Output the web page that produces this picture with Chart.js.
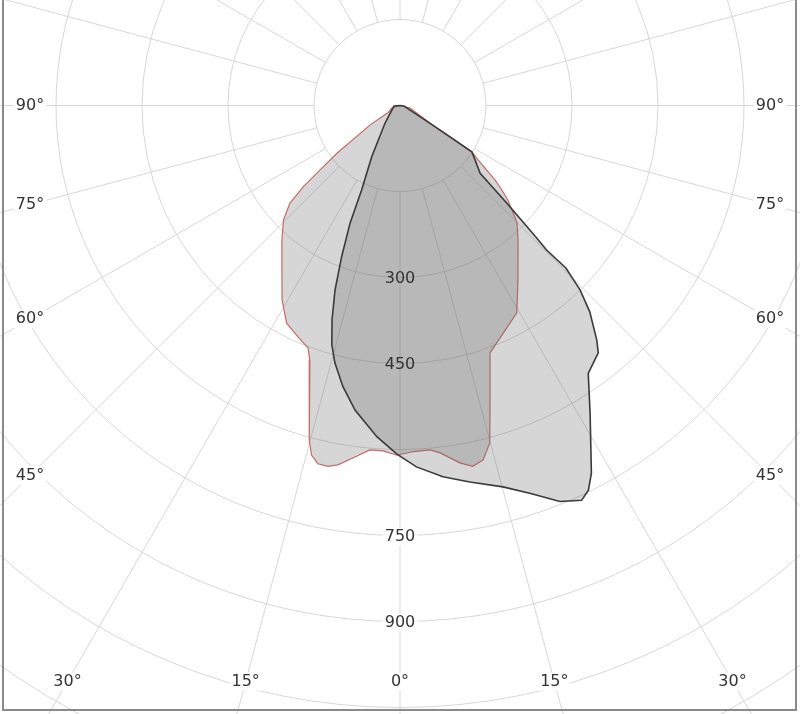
<!DOCTYPE html>
<html><head><meta charset="utf-8">
<script src="https://cdn.jsdelivr.net/npm/chart.js@4.4.1/dist/chart.umd.min.js"></script>
<style>html,body{margin:0;padding:0;background:#fff}canvas{display:block}</style>
</head><body>
<canvas id="c" width="800" height="714"></canvas>
<script>
// ---- data ----
const ringValues = [150, 300, 450, 600, 750, 900, 1050, 1200, 1350];
const ringLabelValues = [300, 450, 750, 900];
const spokeAngles = [0,15,30,45,60,75,90,105,120,135,150,165,180,195,210,225,240,255,270,285,300,315,330,345];
const angleLabelValues = [0, 15, 30, 45, 60, 75, 90];

// C0-C180 plane (red outline): signed angle from nadir (deg), intensity (cd)
const redAngles = [-90,-73,-59.7,-57.0,-52.9,-51.1,-50.0,-48.4,-45.5,-41.3,-35.7,-31.2,-27.5,-23.8,-20.8,-19.5,-17.1,-15.2,-14.2,-12.9,-11.3,-9.8,-7.3,-5.0,-2.8,-0.5,2.2,5.0,6.6,9.5,11.4,13.2,14.9,17.0,20.0,24.4,29.4,34.1,41.3,45.1,48.8,50.8,51.9,55.1,57.1,57.9,59.7,76,90];
const redIntensity = [0,15,24,62,138,179,220,257,285,312,353,397,428,441,452,471,537,605,629,641,642,636,618,603,603,610,604,603,610,632,642,635,609,537,459,436,415,367,312,288,250,225,211,166,150,113,61,18,0];

// C90-C270 plane (black outline)
const blackAngles = [-90,-85,-46.2,-40.1,-28.9,-24.4,-23.0,-21.1,-19.4,-17.6,-15.9,-14.2,-11.5,-8.4,-4.0,-0.5,2.6,6.6,10.5,15.1,18.5,22.0,24.7,26.1,27.5,31.7,35.1,38.7,40.0,42.6,44.3,45.6,45.4,45.9,47.6,49.8,54.0,57.2,59.3,83,90];
const blackIntensity = [0,10.5,28,41,102,162,223,283,341,392,434,463,500,537,579,608,631,652,668,689,713,745,758,747,723,631,571,553,534,489,450,405,359,332,252,183,162,149,61,7,0];

// ---- helpers ----
function toXY(angles, vals) {
  return angles.map((a, i) => {
    const r = a * Math.PI / 180;
    return { x: vals[i] * Math.sin(r), y: -vals[i] * Math.cos(r) };
  });
}
const K = 86 / 150;           // px per cd
const CX = 400, CY = 105.5;   // pole position in px
const W = 800, H = 714;

const FONT = '16px "DejaVu Sans", Verdana, sans-serif';
const TXT = '#333';
const GRID = '#d6d6d6';

const gridPlugin = {
  id: 'polarGrid',
  beforeDatasetsDraw(chart) {
    const ctx = chart.ctx, xs = chart.scales.x, ys = chart.scales.y;
    const cx = xs.getPixelForValue(0), cy = ys.getPixelForValue(0);
    const rad = v => xs.getPixelForValue(v) - cx;
    ctx.save();
    ctx.strokeStyle = GRID; ctx.lineWidth = 1;
    ringValues.forEach(v => {
      ctx.beginPath(); ctx.arc(cx, cy, rad(v), 0, Math.PI * 2); ctx.stroke();
    });
    const r0 = rad(ringValues[0]), r1 = rad(3000);
    spokeAngles.forEach(a => {
      const t = a * Math.PI / 180, s = Math.sin(t), c = Math.cos(t);
      ctx.beginPath();
      ctx.moveTo(cx + r0 * s, cy + r0 * c);
      ctx.lineTo(cx + r1 * s, cy + r1 * c);
      ctx.stroke();
    });
    ctx.restore();
  },
  afterDatasetsDraw(chart) {
    const ctx = chart.ctx, xs = chart.scales.x, ys = chart.scales.y;
    const cx = xs.getPixelForValue(0), cy = ys.getPixelForValue(0);
    const rad = v => xs.getPixelForValue(v) - cx;
    ctx.save();
    ctx.font = FONT; ctx.textAlign = 'center'; ctx.textBaseline = 'middle';
    const boxed = (txt, x, y) => {
      const w = ctx.measureText(txt).width;
      ctx.fillStyle = '#fff';
      ctx.fillRect(x - w / 2 - 2, y - 9, w + 4, 18);
      ctx.fillStyle = TXT;
      ctx.fillText(txt, x, y);
    };
    // angle labels on the frame
    const sideX = 370, bottomY = 576;
    angleLabelValues.forEach(a => {
      const t = a * Math.PI / 180, s = Math.sin(t), c = Math.cos(t);
      const tt = Math.min(s > 1e-6 ? sideX / s : 1e9, c > 1e-6 ? bottomY / c : 1e9);
      const sides = a === 0 ? [1] : [-1, 1];
      sides.forEach(sg => boxed(a + '°', cx + sg * tt * s, cy + tt * c));
    });
    // ring labels on the nadir axis
    ringLabelValues.forEach(v => {
      const y = cy + rad(v) + 1;
      if (v >= 600) boxed(String(v), cx, y);
      else { ctx.fillStyle = TXT; ctx.fillText(String(v), cx, y); }
    });
    // frame
    ctx.strokeStyle = '#8a8a8a'; ctx.lineWidth = 2;
    ctx.beginPath();
    ctx.moveTo(3, 0); ctx.lineTo(3, 710); ctx.lineTo(796, 710); ctx.lineTo(796, 0);
    ctx.stroke();
    ctx.restore();
  }
};

new Chart(document.getElementById('c'), {
  type: 'scatter',
  data: {
    datasets: [
      {
        label: 'C90-C270',
        data: toXY(blackAngles, blackIntensity),
        showLine: true, fill: 'shape', order: 0,
        borderColor: '#3a3a3a', borderWidth: 1.6,
        backgroundColor: 'rgba(105,105,105,0.27)',
        pointRadius: 0, tension: 0
      },
      {
        label: 'C0-C180',
        data: toXY(redAngles, redIntensity),
        showLine: true, fill: 'shape', order: 1,
        borderColor: '#c46a6a', borderWidth: 1.2,
        backgroundColor: 'rgba(105,105,105,0.27)',
        pointRadius: 0, tension: 0
      }
    ]
  },
  options: {
    responsive: false, animation: false, devicePixelRatio: 1,
    layout: { padding: 0 },
    plugins: { legend: { display: false }, tooltip: { enabled: false } },
    scales: {
      x: { type: 'linear', display: false, min: -CX / K, max: (W - CX) / K },
      y: { type: 'linear', display: false, min: -(H - CY) / K, max: CY / K }
    }
  },
  plugins: [gridPlugin]
});
</script>
</body></html>
